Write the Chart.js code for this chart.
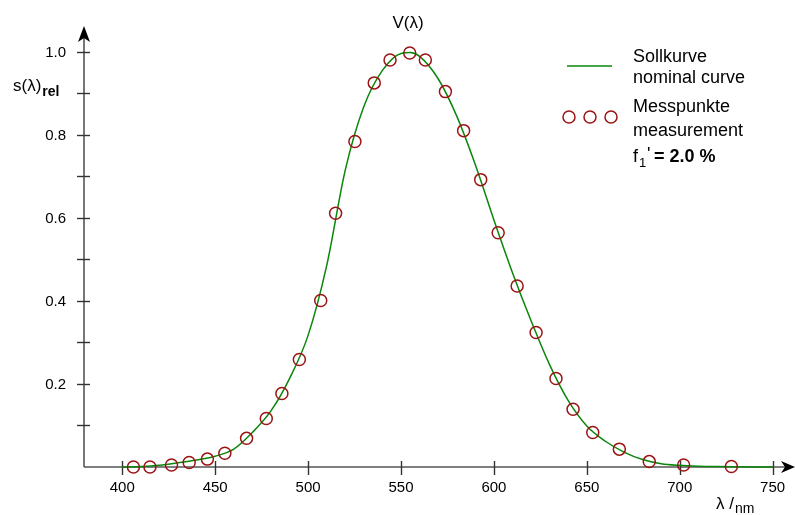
<!DOCTYPE html>
<html>
<head>
<meta charset="utf-8">
<script src="https://cdn.jsdelivr.net/npm/chart.js@4.4.1/dist/chart.umd.min.js"></script>
<style>
  html, body { margin: 0; padding: 0; background: #fff; }
  #wrap { width: 795px; height: 515px; }
</style>
</head>
<body>
<div id="wrap"><canvas id="chart" width="795" height="515"></canvas></div>
<script>
// Nominal curve V(lambda)
const curveNm = [400, 410, 420, 430, 440, 450, 460, 470, 480, 490, 500, 510, 520, 530, 540, 550, 555, 560, 570, 580, 590, 600, 610, 620, 630, 640, 650, 660, 670, 680, 690, 700, 710, 720, 730, 740, 750];
const curveVal = [0.000, 0.001, 0.004, 0.010, 0.017, 0.026, 0.043, 0.083, 0.135, 0.213, 0.317, 0.485, 0.715, 0.868, 0.955, 0.996, 0.998, 0.989, 0.935, 0.845, 0.728, 0.595, 0.468, 0.352, 0.246, 0.160, 0.099, 0.062, 0.036, 0.018, 0.008, 0.004, 0.002, 0.001, 0.0005, 0.0002, 0.0001];

// Measurement points
const measNm = [406, 414.9, 426.5, 436, 445.8, 455.2, 466.9, 477.5, 485.9, 495.3, 506.8, 514.8, 525.2, 535.6, 544.1, 554.7, 563.1, 573.9, 583.7, 592.9, 602.3, 612.5, 622.7, 633.4, 642.6, 653.2, 667.5, 683.6, 702.1, 727.8];
const measVal = [0.000, 0.000, 0.005, 0.011, 0.019, 0.033, 0.069, 0.117, 0.177, 0.259, 0.401, 0.611, 0.784, 0.925, 0.980, 0.997, 0.980, 0.904, 0.810, 0.692, 0.564, 0.436, 0.324, 0.213, 0.139, 0.083, 0.043, 0.013, 0.005, 0.001];

// Axis ticks
const xTicks = [400, 450, 500, 550, 600, 650, 700, 750];
const yTicks = [0.2, 0.4, 0.6, 0.8, 1.0];
const yMinor = [0.1, 0.3, 0.5, 0.7, 0.9];

const GREEN = '#0a860a';
const RED = '#9b1414';
const FONT = '"Liberation Sans", Arial, sans-serif';

const toPts = (xs, ys) => xs.map((x, i) => ({ x: x, y: ys[i] }));

// --- Axes drawn with arrows, ticks crossing the lines ---
const axesPlugin = {
  id: 'axes',
  beforeDatasetsDraw(chart) {
    const ctx = chart.ctx;
    const xs = chart.scales.x, ys = chart.scales.y;
    const x0 = chart.chartArea.left;
    const y0 = ys.getPixelForValue(0);
    ctx.save();
    ctx.strokeStyle = '#555';
    ctx.lineWidth = 1.6;
    // x axis
    ctx.beginPath();
    ctx.moveTo(x0, y0);
    ctx.lineTo(786, y0);
    ctx.stroke();
    // y axis
    ctx.beginPath();
    ctx.moveTo(x0, y0);
    ctx.lineTo(x0, 36);
    ctx.stroke();

    // ticks
    ctx.strokeStyle = '#333';
    ctx.lineWidth = 1.4;
    [...yTicks, ...yMinor].forEach(v => {
      const py = Math.round(ys.getPixelForValue(v)) + 0.5;
      ctx.beginPath();
      ctx.moveTo(x0 - 7, py);
      ctx.lineTo(x0 + 6, py);
      ctx.stroke();
    });
    xTicks.forEach(v => {
      const px = Math.round(xs.getPixelForValue(v)) + 0.5;
      ctx.beginPath();
      ctx.moveTo(px, y0 - 6);
      ctx.lineTo(px, y0 + 8);
      ctx.stroke();
    });

    // arrow heads
    ctx.fillStyle = '#000';
    ctx.beginPath();
    ctx.moveTo(x0, 26);
    ctx.lineTo(x0 - 6, 42);
    ctx.lineTo(x0, 38);
    ctx.lineTo(x0 + 6, 42);
    ctx.closePath();
    ctx.fill();
    ctx.beginPath();
    ctx.moveTo(795, y0);
    ctx.lineTo(781, y0 - 6);
    ctx.lineTo(785, y0);
    ctx.lineTo(781, y0 + 6);
    ctx.closePath();
    ctx.fill();

    // tick labels
    ctx.fillStyle = '#000';
    ctx.font = '15px ' + FONT;
    ctx.textAlign = 'right';
    ctx.textBaseline = 'middle';
    yTicks.forEach(v => {
      ctx.fillText(v.toFixed(1), 66, ys.getPixelForValue(v) + 1);
    });
    ctx.textAlign = 'center';
    xTicks.forEach(v => {
      ctx.fillText(String(v), xs.getPixelForValue(v), 488);
    });
    ctx.restore();
  },
  afterDraw(chart) {
    const ctx = chart.ctx;
    ctx.save();
    ctx.fillStyle = '#000';
    ctx.textBaseline = 'alphabetic';
    ctx.textAlign = 'left';

    // title
    ctx.font = '17px ' + FONT;
    ctx.textAlign = 'center';
    ctx.fillText('V(λ)', 408, 28);
    ctx.textAlign = 'left';

    // y axis title
    ctx.font = '17px ' + FONT;
    ctx.fillText('s(λ)', 13, 91);
    let w = ctx.measureText('s(λ)').width;
    ctx.font = 'bold 14px ' + FONT;
    ctx.fillText('rel', 13 + w + 1, 96);

    // x axis title
    ctx.font = '17px ' + FONT;
    ctx.fillText('λ /', 716, 509);
    w = ctx.measureText('λ /').width;
    ctx.font = '14px ' + FONT;
    ctx.fillText('nm', 716 + w + 1, 513);

    // legend
    ctx.strokeStyle = GREEN;
    ctx.lineWidth = 1.5;
    ctx.beginPath();
    ctx.moveTo(567, 66);
    ctx.lineTo(612, 66);
    ctx.stroke();

    ctx.strokeStyle = RED;
    ctx.lineWidth = 1.5;
    [569, 590, 611].forEach(cx => {
      ctx.beginPath();
      ctx.arc(cx, 117, 6, 0, Math.PI * 2);
      ctx.stroke();
    });

    ctx.font = '18px ' + FONT;
    ctx.fillText('Sollkurve', 633, 62);
    ctx.fillText('nominal curve', 633, 83);
    ctx.fillText('Messpunkte', 633, 112);
    ctx.fillText('measurement', 633, 136);
    ctx.fillText('f', 633, 162);
    ctx.font = '13px ' + FONT;
    ctx.fillText('1', 639, 167);
    ctx.font = '18px ' + FONT;
    ctx.fillText("'", 647, 160);
    ctx.font = 'bold 18px ' + FONT;
    ctx.fillText('= 2.0 %', 654, 162);
    ctx.restore();
  }
};

new Chart(document.getElementById('chart'), {
  type: 'scatter',
  data: {
    datasets: [
      {
        label: 'Sollkurve',
        data: toPts(curveNm, curveVal),
        showLine: true,
        borderColor: GREEN,
        borderWidth: 1.5,
        pointRadius: 0,
        cubicInterpolationMode: 'monotone',
        clip: false,
        order: 2
      },
      {
        label: 'Messpunkte',
        data: toPts(measNm, measVal),
        showLine: false,
        pointStyle: 'circle',
        pointRadius: 6,
        borderColor: RED,
        borderWidth: 1.5,
        backgroundColor: 'rgba(0,0,0,0)',
        clip: false,
        order: 1
      }
    ]
  },
  options: {
    responsive: false,
    animation: false,
    layout: { padding: { left: 84, right: 0, top: 26, bottom: 48 } },
    scales: {
      x: { type: 'linear', min: 379.4, max: 758, display: false },
      y: { type: 'linear', min: 0, max: 1.062, display: false }
    },
    plugins: {
      legend: { display: false },
      tooltip: { enabled: false }
    }
  },
  plugins: [axesPlugin]
});
</script>
</body>
</html>
